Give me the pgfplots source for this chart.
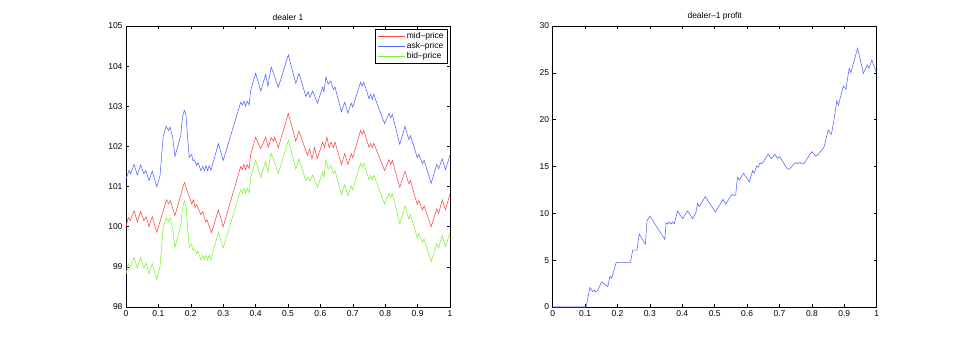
\documentclass[border=0pt]{standalone}
\usepackage{pgfplots}
\usepackage{pgfplotstable}
\pgfplotsset{compat=1.18}
\usepackage{fontspec}
\setmainfont{Liberation Sans}
\definecolor{mblue}{RGB}{80,100,255}
\definecolor{mred}{RGB}{255,70,70}
\definecolor{mgreen}{RGB}{120,245,50}

\pgfplotstableread{
x y
0.000 100.00
0.007 100.23
0.013 100.15
0.025 100.40
0.035 100.12
0.045 100.38
0.055 100.15
0.062 100.25
0.071 100.00
0.081 100.25
0.095 99.86
0.125 100.67
0.132 100.57
0.137 100.65
0.151 100.28
0.180 101.10
0.203 100.57
0.208 100.67
0.213 100.48
0.218 100.55
0.231 100.30
0.237 100.38
0.246 100.12
0.250 100.17
0.264 99.85
0.285 100.42
0.300 100.00
0.354 101.50
0.359 101.42
0.364 101.55
0.369 101.42
0.374 101.55
0.380 101.45
0.385 101.80
0.400 102.23
0.416 101.94
0.431 102.23
0.439 101.98
0.448 102.22
0.455 102.13
0.459 102.23
0.470 101.97
0.501 102.82
0.524 102.13
0.534 102.38
0.553 101.94
0.560 101.78
0.567 101.94
0.574 101.69
0.582 101.97
0.590 101.69
0.607 102.11
0.613 101.97
0.620 102.23
0.627 101.97
0.633 102.11
0.640 101.97
0.645 102.11
0.665 101.55
0.675 101.82
0.685 101.55
0.695 101.82
0.700 101.72
0.724 102.40
0.729 102.30
0.734 102.40
0.750 101.98
0.755 102.08
0.760 101.97
0.765 102.08
0.770 101.97
0.798 101.40
0.812 101.67
0.817 101.55
0.822 101.65
0.845 100.98
0.861 101.38
0.873 101.07
0.878 101.15
0.899 100.55
0.904 100.65
0.915 100.42
0.920 100.52
0.942 100.00
0.959 100.44
0.965 100.33
0.976 100.67
0.986 100.42
1.000 100.82
}\midtable

\pgfplotstableread{
x y
0.000 101.19
0.009 101.40
0.014 101.32
0.025 101.55
0.035 101.29
0.045 101.54
0.055 101.32
0.061 101.40
0.071 101.15
0.081 101.38
0.095 101.00
0.105 101.27
0.115 102.27
0.124 102.50
0.131 102.40
0.136 102.48
0.144 102.23
0.151 101.75
0.169 102.27
0.174 102.72
0.180 102.90
0.185 102.78
0.195 101.73
0.203 101.80
0.206 101.65
0.211 101.67
0.218 101.52
0.222 101.60
0.231 101.40
0.237 101.50
0.242 101.40
0.247 101.52
0.252 101.40
0.257 101.52
0.262 101.40
0.285 102.07
0.300 101.65
0.354 103.10
0.359 103.03
0.364 103.13
0.369 103.00
0.374 103.13
0.380 103.03
0.385 103.40
0.400 103.82
0.416 103.38
0.431 103.79
0.438 103.50
0.448 103.98
0.457 103.78
0.470 103.47
0.501 104.28
0.524 103.57
0.534 103.82
0.555 103.25
0.562 103.36
0.568 103.22
0.576 103.38
0.591 103.08
0.607 103.48
0.611 103.36
0.617 103.73
0.624 103.55
0.632 103.63
0.640 103.42
0.645 103.48
0.665 102.86
0.675 103.10
0.685 102.83
0.695 103.08
0.700 102.98
0.724 103.60
0.729 103.50
0.734 103.60
0.750 103.19
0.755 103.30
0.760 103.17
0.765 103.30
0.770 103.17
0.798 102.57
0.812 102.82
0.817 102.71
0.822 102.80
0.845 102.05
0.861 102.50
0.873 102.17
0.878 102.27
0.899 101.72
0.904 101.80
0.915 101.57
0.920 101.65
0.942 101.08
0.959 101.55
0.965 101.44
0.976 101.69
0.986 101.42
1.000 101.78
}\asktable

\pgfplotstableread{
x y
0.000 98.82
0.007 99.07
0.013 98.98
0.025 99.23
0.035 98.97
0.045 99.23
0.055 98.98
0.062 99.10
0.071 98.83
0.081 99.08
0.095 98.69
0.105 99.00
0.115 99.98
0.124 100.23
0.131 100.13
0.136 100.23
0.144 99.94
0.151 99.48
0.169 100.02
0.174 100.44
0.180 100.65
0.185 100.52
0.195 99.48
0.203 99.57
0.206 99.42
0.211 99.44
0.218 99.32
0.222 99.40
0.231 99.17
0.237 99.29
0.242 99.17
0.247 99.29
0.252 99.17
0.257 99.29
0.262 99.17
0.285 99.86
0.300 99.47
0.354 100.92
0.359 100.83
0.364 100.96
0.369 100.83
0.374 100.96
0.380 100.84
0.385 101.23
0.400 101.65
0.416 101.23
0.431 101.63
0.438 101.36
0.448 101.83
0.457 101.63
0.470 101.33
0.501 102.15
0.524 101.44
0.534 101.69
0.555 101.15
0.562 101.23
0.568 101.13
0.576 101.29
0.591 100.98
0.607 101.36
0.611 101.23
0.617 101.67
0.624 101.44
0.632 101.53
0.640 101.32
0.645 101.40
0.665 100.80
0.675 101.05
0.685 100.77
0.695 101.02
0.700 100.92
0.724 101.58
0.729 101.48
0.734 101.58
0.750 101.17
0.755 101.28
0.760 101.17
0.765 101.28
0.770 101.17
0.798 100.57
0.812 100.83
0.817 100.73
0.822 100.82
0.845 100.07
0.861 100.52
0.873 100.19
0.878 100.30
0.899 99.73
0.904 99.83
0.915 99.61
0.920 99.69
0.942 99.13
0.959 99.58
0.965 99.48
0.976 99.78
0.986 99.50
1.000 99.86
}\bidtable

\pgfplotstableread{
x y
0.000 0
0.103 0
0.115 2.10
0.123 1.64
0.128 1.81
0.134 1.60
0.139 1.81
0.151 2.70
0.170 2.17
0.177 3.30
0.182 3.06
0.185 3.42
0.196 4.77
0.240 4.77
0.247 6.08
0.260 6.08
0.267 7.79
0.286 6.69
0.291 9.20
0.300 9.70
0.346 7.22
0.350 9.00
0.355 8.86
0.360 9.07
0.365 8.86
0.370 9.07
0.375 8.86
0.385 10.25
0.401 9.43
0.416 10.25
0.432 9.43
0.442 10.07
0.447 11.07
0.452 10.71
0.471 11.78
0.502 10.14
0.526 11.49
0.534 11.00
0.553 12.03
0.560 11.89
0.565 12.03
0.570 13.84
0.576 13.56
0.589 14.27
0.607 13.38
0.617 14.56
0.622 14.27
0.629 15.05
0.634 14.91
0.640 15.41
0.645 15.27
0.665 16.30
0.675 15.84
0.686 16.30
0.694 15.87
0.701 16.05
0.723 14.80
0.730 14.70
0.737 14.98
0.750 15.41
0.755 15.27
0.763 15.44
0.769 15.27
0.776 15.34
0.799 16.58
0.812 16.12
0.820 16.30
0.838 17.12
0.850 18.90
0.860 18.43
0.869 20.14
0.877 22.03
0.882 21.57
0.897 23.60
0.905 23.24
0.915 25.48
0.920 25.02
0.941 27.62
0.959 24.95
0.971 25.84
0.976 25.48
0.985 26.37
0.998 25.12
}\profittable

\pgfplotsset{
  mstyle/.style={
    scale only axis, width=324pt, height=281pt,
    xmin=0, xmax=1,
    xtick={0,0.1,0.2,0.3,0.4,0.5,0.6,0.7,0.8,0.9,1},
    tick align=inside, major tick length=3pt,
    tick style={black, line width=0.5pt},
    axis line style={black, line width=0.6pt},
    ticklabel style={font=\fontsize{8.5}{10}\selectfont},
    /pgf/number format/assume math mode=true,
    title style={font=\fontsize{8.5}{10}\selectfont, yshift=-4pt},
    every axis plot/.append style={line width=0.55pt},
  }
}

\begin{document}
\begin{tikzpicture}
\useasboundingbox (0,0) rectangle (969pt,346pt);
\begin{axis}[mstyle, at={(126pt,39pt)}, anchor=south west,
  ymin=98, ymax=105, ytick={98,99,100,101,102,103,104,105},
  title={dealer 1},
  legend style={at={(1,1)}, anchor=north east, xshift=-2pt, yshift=-3pt,
    font=\fontsize{8.5}{10}\selectfont, draw=black, line width=0.6pt,
    inner xsep=2pt, inner ysep=1.5pt, row sep=-1.8pt},
  legend cell align=left,
  legend image post style={line width=0.5pt},
  legend image code/.code={\path (0pt,0pt) -- (27pt,0pt);
    \draw[#1] (2pt,0pt) -- (19pt,0pt);},
]
\addplot[mred, no marks] table {\midtable};
\addlegendentry{mid--price}
\addplot[mblue, no marks] table {\asktable};
\addlegendentry{ask--price}
\addplot[mgreen, no marks] table {\bidtable};
\addlegendentry{bid--price}
\end{axis}
\begin{axis}[mstyle, at={(552.7pt,39pt)}, anchor=south west,
  ymin=0, ymax=30, ytick={0,5,10,15,20,25,30},
  title={dealer--1 profit},
]
\addplot[mblue, no marks] table {\profittable};
\end{axis}
\end{tikzpicture}
\end{document}
